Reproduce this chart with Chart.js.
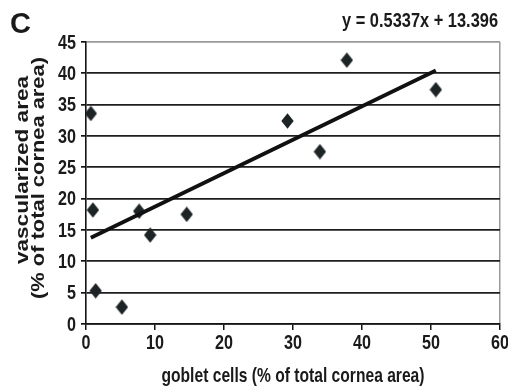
<!DOCTYPE html>
<html><head><meta charset="utf-8">
<script src="https://cdn.jsdelivr.net/npm/chart.js@4.4.1/dist/chart.umd.min.js"></script>
<style>html,body{margin:0;padding:0;background:#fff;}#wrap{width:508px;height:390px;}</style>
</head><body><div id="wrap"><canvas id="c" width="508" height="390"></canvas></div>
<script>
// ---- data ----
const gobletX = [0.7, 1.0, 1.4, 5.2, 7.7, 9.3, 14.6, 29.2, 33.9, 37.8, 50.7];
const vascY   = [33.6, 18.2, 5.3, 2.7, 18.0, 14.2, 17.5, 32.4, 27.5, 42.1, 37.4];
const trendSlope = 0.5337;
const trendIntercept = 13.396;
const xTicks = [0, 10, 20, 30, 40, 50, 60];
const yTicks = [0, 5, 10, 15, 20, 25, 30, 35, 40, 45];
const panelLabel = 'C';
const equationLabel = 'y = 0.5337x + 13.396';
const xTitle = 'goblet cells (% of total cornea area)';
const yTitle = ['vascularized area', '(% of total cornea area)'];

const scatterPts = gobletX.map((x, i) => ({x: x, y: vascY[i]}));
const xMin = Math.min(...gobletX), xMax = Math.max(...gobletX);
const trendPts = [xMin, xMax].map(x => ({x: x, y: trendSlope * x + trendIntercept}));

// diamond marker image
const dm = document.createElement('canvas');
dm.width = 13; dm.height = 16;
(function(){const g = dm.getContext('2d'); g.fillStyle = '#1c2426'; g.beginPath();
 g.moveTo(6.5, 0.3); g.lineTo(12.7, 8); g.lineTo(6.5, 15.7); g.lineTo(0.3, 8); g.closePath(); g.fill();})();

const FONT = '"Liberation Sans", Arial, Helvetica, sans-serif';
const SY = 1.15;
function txt(ctx, s, x, y, size, align, opts) {
  opts = opts || {};
  ctx.save();
  ctx.font = 'bold ' + size + 'px ' + FONT;
  let sx = opts.sx || 1;
  if (opts.fitW) sx = opts.fitW / ctx.measureText(s).width;
  ctx.translate(x, y);
  if (opts.rot) ctx.rotate(opts.rot);
  ctx.scale(sx, opts.sy || 1);
  ctx.textAlign = align;
  ctx.textBaseline = 'alphabetic';
  ctx.fillStyle = '#1a1a1a';
  ctx.fillText(s, 0, 0);
  ctx.restore();
}

const textPlugin = {
  id: 'texts',
  afterDraw(chart) {
    const ctx = chart.ctx;
    const xs = chart.scales.x, ys = chart.scales.y;
    xTicks.forEach(v => txt(ctx, String(v), xs.getPixelForValue(v), 349, 17, 'center', {sy: SY, sx: 0.95}));
    yTicks.forEach(v => txt(ctx, String(v), 76, ys.getPixelForValue(v) + 6.5, 17, 'right', {sy: SY, sx: 0.95}));
    txt(ctx, xTitle, (chart.chartArea.left + chart.chartArea.right) / 2, 382, 17, 'center', {sy: 1.24, fitW: 263});
    txt(ctx, yTitle[0], 28, 170, 19, 'center', {rot: -Math.PI / 2, fitW: 188});
    txt(ctx, yTitle[1], 44, 178, 19, 'center', {rot: -Math.PI / 2, fitW: 242});
    txt(ctx, panelLabel, 10, 33, 29, 'left', {});
    txt(ctx, equationLabel, 498, 27, 16.5, 'right', {sy: 1.2, fitW: 156});
  }
};

new Chart(document.getElementById('c'), {
  data: {
    datasets: [
      {type: 'line', data: trendPts, borderColor: '#111', borderWidth: 3.8, pointRadius: 0, fill: false, tension: 0, order: 0},
      {type: 'scatter', data: scatterPts, pointStyle: dm, pointRadius: 7, order: 1}
    ]
  },
  options: {
    responsive: false, animation: false, devicePixelRatio: 1,
    layout: {padding: {left: 0, right: 8, top: 42, bottom: 0}},
    plugins: {legend: {display: false}, tooltip: {enabled: false}},
    scales: {
      x: {
        type: 'linear', min: 0, max: 60,
        afterBuildTicks: s => { s.ticks = xTicks.map(v => ({value: v})); },
        afterFit: s => { s.height = 66; },
        ticks: {display: false},
        grid: {
          drawOnChartArea: true, drawTicks: true, tickLength: 6, lineWidth: 1.5,
          color: c => (c.tick && c.tick.value === 60) ? '#9a9a9a' : 'rgba(0,0,0,0)',
          tickColor: '#141414'
        },
        border: {display: true, color: '#141414', width: 1.6}
      },
      y: {
        type: 'linear', min: 0, max: 45,
        afterBuildTicks: s => { s.ticks = yTicks.map(v => ({value: v})); },
        afterFit: s => { s.width = 86; },
        ticks: {display: false},
        grid: {
          drawOnChartArea: true, drawTicks: true, tickLength: 5, lineWidth: 1.7,
          color: c => (c.tick && c.tick.value === 45) ? '#9a9a9a' : '#1e1e1e',
          tickColor: '#141414'
        },
        border: {display: true, color: '#141414', width: 1.6}
      }
    }
  },
  plugins: [textPlugin]
});
</script></body></html>
